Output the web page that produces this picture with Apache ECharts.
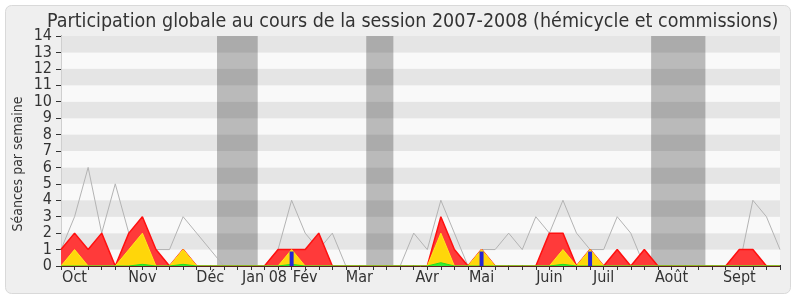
<!DOCTYPE html>
<html><head><meta charset="utf-8">
<script src="https://cdn.jsdelivr.net/npm/echarts@6/dist/echarts.min.js"></script>
<style>html,body{margin:0;padding:0;background:#fff}#c{width:800px;height:300px}</style>
</head><body><div id="c"></div>
<script>
// Week indices 0..53 (session 2007-2008, weekly)
const monthLabels = ['Oct','Nov','Déc','Jan 08','Fév','Mar','Avr','Mai','Juin','Juil','Août','Sept'];
const monthWeeks  = [1, 6, 11, 15, 18, 22, 27, 31, 36, 40, 45, 50];
const yTicks = [0,1,2,3,4,5,6,7,8,9,10,11,12,13,14];

// Red: total presence (hémicycle + commissions)
const presenceTotal = [1,2,1,2,0,2,3,1,0,1, 0,0,0,0,0,0,1,1,1,2, 0,0,0,0,0,0,0,0,3,1, 0,1,0,0,0,0,2,2,0,1, 0,1,0,1,0,0,0,0,0,0, 1,1,0,0];
// Yellow: hémicycle
const presenceHemicycle = [0,1,0,0,0,1,2,0,0,1, 0,0,0,0,0,0,0,1,0,0, 0,0,0,0,0,0,0,0,2,0, 0,1,0,0,0,0,0,1,0,1, 0,0,0,0,0,0,0,0,0,0, 0,0,0,0];
// Green: interventions
const interventions = [0,0,0,0,0,0,0.1,0,0,0.1, 0,0,0,0,0,0,0,0.1,0,0, 0,0,0,0,0,0,0,0,0.2,0, 0,0,0,0,0,0,0,0.1,0,0, 0,0,0,0,0,0,0,0,0,0, 0,0,0,0];
// Blue: questions orales
const questions = [0,0,0,0,0,0,0,0,0,0, 0,0,0,0,0,0,0,0.88,0,0, 0,0,0,0,0,0,0,0,0,0, 0,0.88,0,0,0,0,0,0,0,0.88, 0,0,0,0,0,0,0,0,0,0, 0,0,0,0];
// Grey: median of deputies
const median = [1,3,6,2,5,2,2,1,1,3, 2,1,0,0,0,0,1,4,2,1, 2,0,0,0,0,0,2,1,4,2, 0,1,1,2,1,3,2,4,2,1, 1,3,2,0,0,0,0,0,0,0, 0,4,3,1];
// Vacation periods (week ranges)
const vacations = [[11.5,14.5],[22.5,24.5],[43.5,47.5]];

const FONT = '"DejaVu Sans Condensed","DejaVu Sans",sans-serif';
const pairs = arr => arr.map((v,i)=>[i,v]);
const labelMap = {};
monthWeeks.forEach((w,k)=>labelMap[w]=monthLabels[k]);

const chart = echarts.init(document.getElementById('c'), null, {renderer:'canvas'});
chart.setOption({
  backgroundColor:'#ffffff',
  animation:false,
  graphic:[
    {type:'rect', z:-10, shape:{x:5.5,y:5.5,width:785,height:288,r:6}, style:{fill:'#efefef',stroke:'#d9d9d9',lineWidth:1}},
    {type:'text', z:10, x:18, y:164, rotation:Math.PI/2, style:{text:'Séances par semaine', font:'14px '+FONT, fill:'#333', align:'center', verticalAlign:'middle'}}
  ],
  title:{text:'Participation globale au cours de la session 2007-2008 (hémicycle et commissions)', left:42, top:7,
    textStyle:{fontFamily:FONT,fontSize:19.5,fontWeight:'normal',color:'#333'}},
  grid:{left:61,right:20,top:36,bottom:34},
  xAxis:[{
    type:'value', min:0, max:53, interval:1,
    axisLine:{show:true,onZero:false,lineStyle:{color:'#5a2020',width:1}},
    axisTick:{show:true,length:4,lineStyle:{color:'#333'}},
    axisLabel:{fontFamily:FONT,fontSize:16,color:'#333',margin:4,showMinLabel:true,showMaxLabel:true,
      formatter:v=>labelMap[v]||''},
    splitLine:{show:false}, z:10
  },{
    type:'value', position:'top', min:0, max:53, interval:1,
    axisLine:{show:false}, axisTick:{show:true,length:1,lineStyle:{color:'#333'}},
    axisLabel:{show:false}, splitLine:{show:false}
  }],
  yAxis:[{
    type:'value', min:0, max:14, interval:1,
    axisLine:{show:true,lineStyle:{color:'#333'}},
    axisTick:{show:true,length:5,lineStyle:{color:'#333'}},
    axisLabel:{fontFamily:FONT,fontSize:16,color:'#333',margin:9,formatter:v=>yTicks.includes(v)?String(v):''},
    splitLine:{show:false},
    splitArea:{show:true,areaStyle:{color:['#f9f9f9','#e5e5e5']}}
  },{
    type:'value', position:'right', min:0, max:14, interval:1,
    axisLine:{show:true,lineStyle:{color:'#cfcfcf'}}, axisTick:{show:false}, axisLabel:{show:false},
    splitLine:{show:false}, splitArea:{show:false}
  }],
  series:[
    {type:'line', name:'médiane', data:pairs(median), symbol:'none', z:2,
      lineStyle:{color:'#b3b3b3',width:1},
      markArea:{silent:true, itemStyle:{color:'rgba(0,0,0,0.25)'},
        data:vacations.map(r=>[{xAxis:r[0]},{xAxis:r[1]}])}},
    {type:'line', name:'total', data:pairs(presenceTotal), symbol:'none', z:3,
      lineStyle:{color:'#ff1010',width:1.5}, areaStyle:{color:'#ff3a3a',opacity:1}},
    {type:'line', name:'hémicycle', data:pairs(presenceHemicycle), symbol:'none', z:4,
      lineStyle:{color:'#ffe81a',width:1}, areaStyle:{color:'#ffd60a',opacity:1}},
    {type:'line', name:'interventions', data:pairs(interventions), symbol:'none', z:5,
      lineStyle:{color:'#22dd22',width:1}, areaStyle:{color:'#33ee33',opacity:1}},
    {type:'bar', name:'questions', data:pairs(questions), barWidth:4, z:6,
      itemStyle:{color:'#2626d4'}}
  ]
});
</script></body></html>
